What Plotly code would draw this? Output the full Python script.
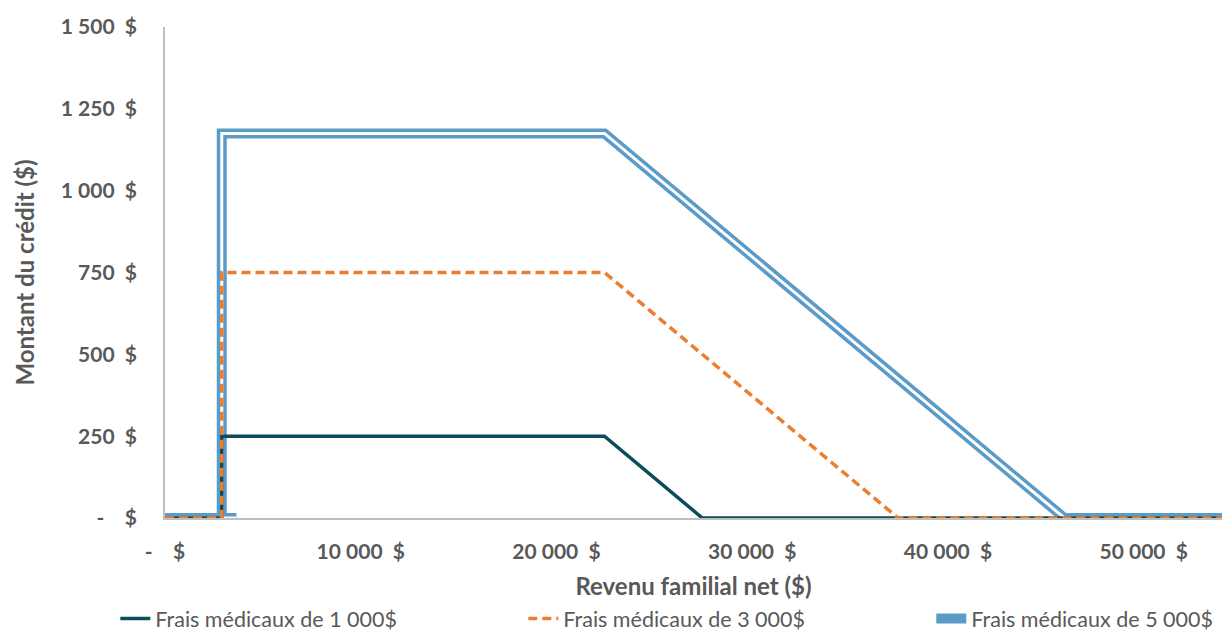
"""Crédit d'impôt pour frais médicaux selon le revenu familial net"""

import plotly.graph_objects as go

# Data
x_1000 = [0, 2900, 2900, 22450, 27450, 54000]
y_1000 = [0, 0, 250, 250, 0, 0]

x_3000 = [0, 2900, 2900, 22450, 37450, 54000]
y_3000 = [0, 0, 750, 750, 0, 0]

x_5000 = [0, 3650, 2900, 2900, 22450, 45950, 54000]
y_5000 = [0, 0, 0, 1175, 1175, 0, 0]

names = [
    "Frais médicaux de 1 000$",
    "Frais médicaux de 3 000$",
    "Frais médicaux de 5 000$",
]

NB = "\u00a0"
x_ticks = [0, 10000, 20000, 30000, 40000, 50000]
x_ticktext = ["-" + NB * 4 + "$"] + [f"{v:,}".replace(",", " ") + NB * 2 + "$" for v in x_ticks[1:]]
y_ticks = [0, 250, 500, 750, 1000, 1250, 1500]
y_ticktext = ["-" + NB * 4 + "$"] + [f"{v:,}".replace(",", " ") + NB * 2 + "$" for v in y_ticks[1:]]

TEAL = "#0d4d5b"
ORANGE = "#ed7d31"
BLUE = "#5b9bc8"
GREY_TEXT = "#595959"
FONT = "Lato, 'Open Sans', sans-serif"

fig = go.Figure()

# Blue double line: thick blue, thin white on top
fig.add_trace(go.Scatter(
    x=x_5000, y=y_5000, mode="lines", name=names[2],
    line=dict(color=BLUE, width=10),
    legendrank=3, hoverinfo="skip",
))
fig.add_trace(go.Scatter(
    x=x_5000, y=y_5000, mode="lines", showlegend=False,
    line=dict(color="white", width=3), hoverinfo="skip",
))
fig.add_trace(go.Scatter(
    x=x_1000, y=y_1000, mode="lines", name=names[0],
    line=dict(color=TEAL, width=3.5), legendrank=1,
))
fig.add_trace(go.Scatter(
    x=x_3000, y=y_3000, mode="lines", name=names[1],
    line=dict(color=ORANGE, width=3.5, dash="9px,5px"), legendrank=2,
))

fig.update_xaxes(
    range=[0, 54000], automargin=False,
    tickvals=x_ticks, ticktext=x_ticktext,
    showgrid=False, zeroline=False,
    showline=True, linecolor="#bfbfbf", linewidth=1.5,
    ticks="", ticklabelstandoff=14,
    tickfont=dict(family=FONT, size=21, color=GREY_TEXT, weight="bold"),
    title=dict(text="<b>Revenu familial net ($)</b>", standoff=16,
               font=dict(family=FONT, size=24, color=GREY_TEXT)),
)
fig.update_yaxes(
    range=[0, 1500], automargin=False,
    tickvals=y_ticks, ticktext=y_ticktext,
    showgrid=False, zeroline=False,
    showline=True, linecolor="#bfbfbf", linewidth=1.5,
    ticks="", ticklabelstandoff=22,
    tickfont=dict(family=FONT, size=21, color=GREY_TEXT, weight="bold"),
    title=dict(text="<b>Montant du crédit ($)</b>", standoff=19,
               font=dict(family=FONT, size=24, color=GREY_TEXT)),
)

fig.update_layout(
    width=1224, height=631,
    margin=dict(l=165, r=2, t=27, b=113, autoexpand=False),
    plot_bgcolor="white", paper_bgcolor="white",
    showlegend=True,
    legend=dict(
        orientation="h", x=-0.047, xanchor="left", y=-0.163, yanchor="top",
        entrywidth=363, entrywidthmode="pixels",
        font=dict(family=FONT, size=21.5, color=GREY_TEXT),
        traceorder="normal",
    ),
)

# page body has a default 8px margin; drop it so the figure fills the window
fig.write_html(
    "out.html",
    config={"displayModeBar": False},
    post_script="document.body.style.margin = '0';",
)
